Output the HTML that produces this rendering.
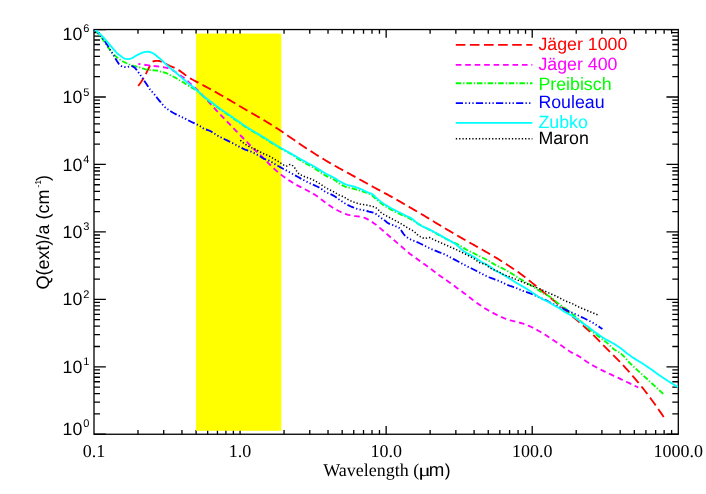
<!DOCTYPE html>
<html><head><meta charset="utf-8"><title>Q(ext)/a vs Wavelength</title>
<style>html,body{margin:0;padding:0;background:#fff;}svg{display:block;transform:translateZ(0);will-change:transform;}text{font-family:"Liberation Sans",sans-serif;text-rendering:geometricPrecision;}.se{font-family:"Liberation Serif",serif;}</style></head><body>
<svg width="706" height="494" viewBox="0 0 706 494">
<rect x="0" y="0" width="706" height="494" fill="#ffffff"/>
<g stroke="#000" stroke-width="1.3" fill="none" stroke-linecap="butt">
<rect x="94" y="29.55" width="584.3" height="404.7"/>
</g>
<path d="M137.97 434.25 v-4.2 M137.97 29.55 v4.2 M163.7 434.25 v-4.2 M163.7 29.55 v4.2 M181.95 434.25 v-4.2 M181.95 29.55 v4.2 M196.1 434.25 v-4.2 M196.1 29.55 v4.2 M207.67 434.25 v-4.2 M207.67 29.55 v4.2 M217.45 434.25 v-4.2 M217.45 29.55 v4.2 M225.92 434.25 v-4.2 M225.92 29.55 v4.2 M233.39 434.25 v-4.2 M233.39 29.55 v4.2 M240.07 434.25 v-8.3 M240.07 29.55 v8.3 M284.05 434.25 v-4.2 M284.05 29.55 v4.2 M309.77 434.25 v-4.2 M309.77 29.55 v4.2 M328.02 434.25 v-4.2 M328.02 29.55 v4.2 M342.18 434.25 v-4.2 M342.18 29.55 v4.2 M353.74 434.25 v-4.2 M353.74 29.55 v4.2 M363.52 434.25 v-4.2 M363.52 29.55 v4.2 M371.99 434.25 v-4.2 M371.99 29.55 v4.2 M379.47 434.25 v-4.2 M379.47 29.55 v4.2 M386.15 434.25 v-8.3 M386.15 29.55 v8.3 M430.12 434.25 v-4.2 M430.12 29.55 v4.2 M455.85 434.25 v-4.2 M455.85 29.55 v4.2 M474.1 434.25 v-4.2 M474.1 29.55 v4.2 M488.25 434.25 v-4.2 M488.25 29.55 v4.2 M499.82 434.25 v-4.2 M499.82 29.55 v4.2 M509.6 434.25 v-4.2 M509.6 29.55 v4.2 M518.07 434.25 v-4.2 M518.07 29.55 v4.2 M525.54 434.25 v-4.2 M525.54 29.55 v4.2 M532.22 434.25 v-8.3 M532.22 29.55 v8.3 M576.2 434.25 v-4.2 M576.2 29.55 v4.2 M601.92 434.25 v-4.2 M601.92 29.55 v4.2 M620.17 434.25 v-4.2 M620.17 29.55 v4.2 M634.33 434.25 v-4.2 M634.33 29.55 v4.2 M645.89 434.25 v-4.2 M645.89 29.55 v4.2 M655.67 434.25 v-4.2 M655.67 29.55 v4.2 M664.14 434.25 v-4.2 M664.14 29.55 v4.2 M671.62 434.25 v-4.2 M671.62 29.55 v4.2 M94 434.25 h11.85 M678.3 434.25 h-11.85 M94 413.95 h6 M678.3 413.95 h-6 M94 402.07 h6 M678.3 402.07 h-6 M94 393.64 h6 M678.3 393.64 h-6 M94 387.1 h6 M678.3 387.1 h-6 M94 381.76 h6 M678.3 381.76 h-6 M94 377.25 h6 M678.3 377.25 h-6 M94 373.34 h6 M678.3 373.34 h-6 M94 369.89 h6 M678.3 369.89 h-6 M94 366.8 h11.85 M678.3 366.8 h-11.85 M94 346.5 h6 M678.3 346.5 h-6 M94 334.62 h6 M678.3 334.62 h-6 M94 326.19 h6 M678.3 326.19 h-6 M94 319.65 h6 M678.3 319.65 h-6 M94 314.31 h6 M678.3 314.31 h-6 M94 309.8 h6 M678.3 309.8 h-6 M94 305.89 h6 M678.3 305.89 h-6 M94 302.44 h6 M678.3 302.44 h-6 M94 299.35 h11.85 M678.3 299.35 h-11.85 M94 279.05 h6 M678.3 279.05 h-6 M94 267.17 h6 M678.3 267.17 h-6 M94 258.74 h6 M678.3 258.74 h-6 M94 252.2 h6 M678.3 252.2 h-6 M94 246.86 h6 M678.3 246.86 h-6 M94 242.35 h6 M678.3 242.35 h-6 M94 238.44 h6 M678.3 238.44 h-6 M94 234.99 h6 M678.3 234.99 h-6 M94 231.9 h11.85 M678.3 231.9 h-11.85 M94 211.6 h6 M678.3 211.6 h-6 M94 199.72 h6 M678.3 199.72 h-6 M94 191.29 h6 M678.3 191.29 h-6 M94 184.75 h6 M678.3 184.75 h-6 M94 179.41 h6 M678.3 179.41 h-6 M94 174.9 h6 M678.3 174.9 h-6 M94 170.99 h6 M678.3 170.99 h-6 M94 167.54 h6 M678.3 167.54 h-6 M94 164.45 h11.85 M678.3 164.45 h-11.85 M94 144.15 h6 M678.3 144.15 h-6 M94 132.27 h6 M678.3 132.27 h-6 M94 123.84 h6 M678.3 123.84 h-6 M94 117.3 h6 M678.3 117.3 h-6 M94 111.96 h6 M678.3 111.96 h-6 M94 107.45 h6 M678.3 107.45 h-6 M94 103.54 h6 M678.3 103.54 h-6 M94 100.09 h6 M678.3 100.09 h-6 M94 97 h11.85 M678.3 97 h-11.85 M94 76.7 h6 M678.3 76.7 h-6 M94 64.82 h6 M678.3 64.82 h-6 M94 56.39 h6 M678.3 56.39 h-6 M94 49.85 h6 M678.3 49.85 h-6 M94 44.51 h6 M678.3 44.51 h-6 M94 40 h6 M678.3 40 h-6 M94 36.09 h6 M678.3 36.09 h-6 M94 32.64 h6 M678.3 32.64 h-6 M94 29.55 h11.85 M678.3 29.55 h-11.85" stroke="#000" stroke-width="1.3" fill="none"/>
<rect x="196.1" y="33.6" width="85.2" height="397.2" fill="#ffff00"/>
<defs><clipPath id="pc"><rect x="94.55" y="30.1" width="583.75" height="404.15"/></clipPath></defs>
<g clip-path="url(#pc)">
<path d="M138.2 85.9 L139.7 83.96 L141.2 81.83 L142.7 79.58 L144.2 77.19 L145.7 74.39 L147.2 71.12 L148.7 68.25 L150.2 65.1 L151.7 62.55 L153.2 61.4 L154.7 61.02 L156.2 60.9 L157.7 60.9 L159.2 60.96 L160.7 61.31 L162.2 61.9 L163.7 62.73 L165.2 63.54 L166.7 64.36 L168.2 65.17 L169.7 65.89 L171.2 66.49 L172.7 67.05 L174.2 67.64 L175.7 68.35 L177.2 69.21 L178.7 70.15 L180.2 71.13 L181.7 72.18 L183.2 73.31 L184.7 74.47 L186.2 75.62 L187.7 76.71 L189.2 77.69 L190.7 78.6 L192.2 79.47 L193.7 80.29 L195.2 81.08 L196.7 81.87 L198.2 82.65 L199.7 83.44 L201.2 84.25 L202.7 85.05 L204.2 85.84 L205.7 86.64 L207.2 87.45 L208.7 88.26 L210.2 89.07 L211.7 89.89 L213.2 90.72 L214.7 91.55 L216.2 92.39 L217.7 93.24 L219.2 94.09 L220.7 94.95 L222.2 95.81 L223.7 96.67 L225.2 97.54 L226.7 98.4 L228.2 99.28 L229.7 100.16 L231.2 101.04 L232.7 101.93 L234.2 102.82 L235.7 103.72 L237.2 104.62 L238.7 105.52 L240.2 106.42 L241.7 107.31 L243.2 108.19 L244.7 109.06 L246.2 109.93 L247.7 110.79 L249.2 111.64 L250.7 112.5 L252.2 113.35 L253.7 114.21 L255.2 115.08 L256.7 115.95 L258.2 116.83 L259.7 117.71 L261.2 118.59 L262.7 119.48 L264.2 120.38 L265.7 121.28 L267.2 122.19 L268.7 123.11 L270.2 124.03 L271.7 124.97 L273.2 125.92 L274.7 126.88 L276.2 127.85 L277.7 128.84 L279.2 129.83 L280.7 130.84 L282.2 131.85 L283.7 132.87 L285.2 133.89 L286.7 134.92 L288.2 135.94 L289.7 136.98 L291.2 138.01 L292.7 139.05 L294.2 140.09 L295.7 141.13 L297.2 142.17 L298.7 143.21 L300.2 144.24 L301.7 145.25 L303.2 146.26 L304.7 147.25 L306.2 148.23 L307.7 149.2 L309.2 150.16 L310.7 151.11 L312.2 152.07 L313.7 153.02 L315.2 153.97 L316.7 154.91 L318.2 155.86 L319.7 156.79 L321.2 157.72 L322.7 158.64 L324.2 159.56 L325.7 160.46 L327.2 161.35 L328.7 162.24 L330.2 163.12 L331.7 164 L333.2 164.86 L334.7 165.72 L336.2 166.56 L337.7 167.4 L339.2 168.22 L340.7 169.04 L342.2 169.85 L343.7 170.66 L345.2 171.47 L346.7 172.28 L348.2 173.1 L349.7 173.92 L351.2 174.74 L352.7 175.57 L354.2 176.4 L355.7 177.23 L357.2 178.06 L358.7 178.89 L360.2 179.72 L361.7 180.55 L363.2 181.39 L364.7 182.22 L366.2 183.06 L367.7 183.89 L369.2 184.72 L370.7 185.55 L372.2 186.38 L373.7 187.2 L375.2 188.01 L376.7 188.82 L378.2 189.62 L379.7 190.42 L381.2 191.21 L382.7 192.01 L384.2 192.81 L385.7 193.62 L387.2 194.43 L388.7 195.26 L390.2 196.09 L391.7 196.92 L393.2 197.77 L394.7 198.61 L396.2 199.46 L397.7 200.31 L399.2 201.17 L400.7 202.03 L402.2 202.88 L403.7 203.75 L405.2 204.61 L406.7 205.48 L408.2 206.35 L409.7 207.22 L411.2 208.08 L412.7 208.95 L414.2 209.83 L415.7 210.7 L417.2 211.57 L418.7 212.45 L420.2 213.34 L421.7 214.23 L423.2 215.12 L424.7 216.02 L426.2 216.93 L427.7 217.85 L429.2 218.76 L430.7 219.68 L432.2 220.6 L433.7 221.52 L435.2 222.44 L436.7 223.35 L438.2 224.25 L439.7 225.15 L441.2 226.05 L442.7 226.94 L444.2 227.83 L445.7 228.72 L447.2 229.61 L448.7 230.49 L450.2 231.38 L451.7 232.26 L453.2 233.15 L454.7 234.03 L456.2 234.9 L457.7 235.77 L459.2 236.64 L460.7 237.5 L462.2 238.36 L463.7 239.21 L465.2 240.06 L466.7 240.92 L468.2 241.76 L469.7 242.61 L471.2 243.45 L472.7 244.3 L474.2 245.14 L475.7 245.98 L477.2 246.82 L478.7 247.66 L480.2 248.51 L481.7 249.36 L483.2 250.22 L484.7 251.08 L486.2 251.95 L487.7 252.82 L489.2 253.7 L490.7 254.58 L492.2 255.46 L493.7 256.36 L495.2 257.26 L496.7 258.16 L498.2 259.08 L499.7 260 L501.2 260.93 L502.7 261.86 L504.2 262.81 L505.7 263.76 L507.2 264.72 L508.7 265.69 L510.2 266.68 L511.7 267.67 L513.2 268.68 L514.7 269.71 L516.2 270.75 L517.7 271.8 L519.2 272.87 L520.7 273.96 L522.2 275.07 L523.7 276.2 L525.2 277.35 L526.7 278.52 L528.2 279.71 L529.7 280.91 L531.2 282.13 L532.7 283.35 L534.2 284.58 L535.7 285.81 L537.2 287.04 L538.7 288.27 L540.2 289.49 L541.7 290.71 L543.2 291.93 L544.7 293.15 L546.2 294.37 L547.7 295.6 L549.2 296.83 L550.7 298.06 L552.2 299.29 L553.7 300.53 L555.2 301.77 L556.7 303.01 L558.2 304.26 L559.7 305.51 L561.2 306.77 L562.7 308.03 L564.2 309.3 L565.7 310.57 L567.2 311.85 L568.7 313.13 L570.2 314.42 L571.7 315.7 L573.2 316.99 L574.7 318.28 L576.2 319.57 L577.7 320.87 L579.2 322.16 L580.7 323.47 L582.2 324.79 L583.7 326.11 L585.2 327.45 L586.7 328.81 L588.2 330.19 L589.7 331.59 L591.2 333.01 L592.7 334.45 L594.2 335.91 L595.7 337.4 L597.2 338.9 L598.7 340.42 L600.2 341.95 L601.7 343.47 L603.2 345 L604.7 346.53 L606.2 348.05 L607.7 349.56 L609.2 351.07 L610.7 352.56 L612.2 354.06 L613.7 355.56 L615.2 357.06 L616.7 358.58 L618.2 360.11 L619.7 361.66 L621.2 363.22 L622.7 364.81 L624.2 366.42 L625.7 368.06 L627.2 369.71 L628.7 371.39 L630.2 373.08 L631.7 374.8 L633.2 376.54 L634.7 378.29 L636.2 380.07 L637.7 381.86 L639.2 383.68 L640.7 385.53 L642.2 387.4 L643.7 389.3 L645.2 391.23 L646.7 393.18 L648.2 395.17 L649.7 397.18 L651.2 399.19 L652.7 401.23 L654.2 403.31 L655.7 405.42 L657.2 407.56 L658.7 409.71 L660.2 411.87 L661.7 414.04 L663.2 416.22 L664.2 417.69" stroke="#ff0000" stroke-width="1.85" fill="none" stroke-linejoin="round" stroke-dasharray="9.6 4.5"/>
<path d="M138.3 63.8 L139.8 64.05 L141.3 64.29 L142.8 64.53 L144.3 64.75 L145.8 64.97 L147.3 65.18 L148.8 65.39 L150.3 65.58 L151.8 65.77 L153.3 65.95 L154.8 66.12 L156.3 66.28 L157.8 66.44 L159.3 66.61 L160.8 66.8 L162.3 67.02 L163.8 67.27 L165.3 67.56 L166.8 67.9 L168.3 68.35 L169.8 68.92 L171.3 69.59 L172.8 70.38 L174.3 71.25 L175.8 72.19 L177.3 73.25 L178.8 74.41 L180.3 75.54 L181.8 76.57 L183.3 77.4 L184.8 78.43 L186.3 79.74 L187.8 81.19 L189.3 82.65 L190.8 84.02 L192.3 85.34 L193.8 86.66 L195.3 87.99 L196.8 89.36 L198.3 90.79 L199.8 92.28 L201.3 93.83 L202.8 95.42 L204.3 97.03 L205.8 98.65 L207.3 100.29 L208.8 101.93 L210.3 103.59 L211.8 105.26 L213.3 106.94 L214.8 108.61 L216.3 110.26 L217.8 111.9 L219.3 113.5 L220.8 115.08 L222.3 116.64 L223.8 118.18 L225.3 119.71 L226.8 121.25 L228.3 122.79 L229.8 124.34 L231.3 125.9 L232.8 127.47 L234.3 129.05 L235.8 130.62 L237.3 132.18 L238.8 133.73 L240.3 135.26 L241.8 136.77 L243.3 138.27 L244.8 139.77 L246.3 141.29 L247.8 142.84 L249.3 144.41 L250.8 146 L252.3 147.55 L253.8 149.04 L255.3 150.44 L256.8 151.79 L258.3 153.15 L259.8 154.55 L261.3 156.01 L262.8 157.51 L264.3 159.03 L265.8 160.55 L267.3 162.05 L268.8 163.55 L270.3 165.02 L271.8 166.48 L273.3 167.91 L274.8 169.31 L276.3 170.66 L277.8 171.97 L279.3 173.23 L280.8 174.44 L282.3 175.61 L283.8 176.74 L285.3 177.83 L286.8 178.89 L288.3 179.91 L289.8 180.89 L291.3 181.84 L292.8 182.75 L294.3 183.63 L295.8 184.49 L297.3 185.32 L298.8 186.13 L300.3 186.92 L301.8 187.69 L303.3 188.45 L304.8 189.21 L306.3 189.97 L307.8 190.76 L309.3 191.57 L310.8 192.41 L312.3 193.26 L313.8 194.15 L315.3 195.08 L316.8 196.07 L318.3 197.14 L319.8 198.26 L321.3 199.41 L322.8 200.57 L324.3 201.7 L325.8 202.82 L327.3 203.91 L328.8 204.98 L330.3 206.02 L331.8 207.03 L333.3 207.99 L334.8 208.9 L336.3 209.75 L337.8 210.54 L339.3 211.28 L340.8 211.97 L342.3 212.63 L343.8 213.24 L345.3 213.81 L346.8 214.34 L348.3 214.8 L349.8 215.21 L351.3 215.54 L352.8 215.81 L354.3 216.02 L355.8 216.19 L357.3 216.35 L358.8 216.51 L360.3 216.72 L361.8 217.01 L363.3 217.42 L364.8 217.96 L366.3 218.63 L367.8 219.4 L369.3 220.25 L370.8 221.15 L372.3 222.12 L373.8 223.15 L375.3 224.23 L376.8 225.38 L378.3 226.58 L379.8 227.84 L381.3 229.13 L382.8 230.44 L384.3 231.76 L385.8 233.08 L387.3 234.4 L388.8 235.7 L390.3 236.99 L391.8 238.27 L393.3 239.54 L394.8 240.82 L396.3 242.09 L397.8 243.37 L399.3 244.66 L400.8 245.96 L402.3 247.27 L403.8 248.58 L405.3 249.9 L406.8 251.2 L408.3 252.47 L409.8 253.69 L411.3 254.85 L412.8 255.96 L414.3 257.03 L415.8 258.09 L417.3 259.13 L418.8 260.18 L420.3 261.24 L421.8 262.3 L423.3 263.38 L424.8 264.47 L426.3 265.58 L427.8 266.7 L429.3 267.83 L430.8 268.96 L432.3 270.1 L433.8 271.23 L435.3 272.35 L436.8 273.46 L438.3 274.56 L439.8 275.63 L441.3 276.69 L442.8 277.74 L444.3 278.77 L445.8 279.81 L447.3 280.84 L448.8 281.89 L450.3 282.96 L451.8 284.05 L453.3 285.17 L454.8 286.3 L456.3 287.45 L457.8 288.58 L459.3 289.69 L460.8 290.77 L462.3 291.84 L463.8 292.91 L465.3 294.01 L466.8 295.15 L468.3 296.32 L469.8 297.51 L471.3 298.69 L472.8 299.86 L474.3 301 L475.8 302.11 L477.3 303.2 L478.8 304.25 L480.3 305.29 L481.8 306.29 L483.3 307.27 L484.8 308.23 L486.3 309.15 L487.8 310.04 L489.3 310.9 L490.8 311.73 L492.3 312.54 L493.8 313.33 L495.3 314.1 L496.8 314.85 L498.3 315.59 L499.8 316.3 L501.3 316.98 L502.8 317.64 L504.3 318.25 L505.8 318.83 L507.3 319.36 L508.8 319.84 L510.3 320.28 L511.8 320.68 L513.3 321.05 L514.8 321.41 L516.3 321.78 L517.8 322.15 L519.3 322.56 L520.8 322.99 L522.3 323.45 L523.8 323.94 L525.3 324.47 L526.8 325.03 L528.3 325.63 L529.8 326.28 L531.3 326.97 L532.8 327.7 L534.3 328.46 L535.8 329.26 L537.3 330.08 L538.8 330.94 L540.3 331.81 L541.8 332.72 L543.3 333.64 L544.8 334.59 L546.3 335.55 L547.8 336.53 L549.3 337.52 L550.8 338.5 L552.3 339.48 L553.8 340.46 L555.3 341.44 L556.8 342.42 L558.3 343.41 L559.8 344.42 L561.3 345.46 L562.8 346.53 L564.3 347.63 L565.8 348.73 L567.3 349.81 L568.8 350.82 L570.3 351.74 L571.8 352.57 L573.3 353.34 L574.8 354.07 L576.3 354.82 L577.8 355.64 L579.3 356.53 L580.8 357.52 L582.3 358.56 L583.8 359.64 L585.3 360.7 L586.8 361.73 L588.3 362.7 L589.8 363.63 L591.3 364.51 L592.8 365.36 L594.3 366.19 L595.8 366.99 L597.3 367.78 L598.8 368.56 L600.3 369.32 L601.8 370.08 L603.3 370.84 L604.8 371.58 L606.3 372.31 L607.8 373.04 L609.3 373.75 L610.8 374.46 L612.3 375.16 L613.8 375.86 L615.3 376.55 L616.8 377.25 L618.3 377.94 L619.8 378.64 L621.3 379.35 L622.8 380.06 L624.3 380.77 L625.8 381.49 L627.3 382.21 L628.8 382.92 L630.3 383.64 L631.8 384.36 L633.3 385.09 L634.8 385.81 L636.3 386.53 L637.8 387.26 L638.3 387.5" stroke="#ff00ff" stroke-width="1.85" fill="none" stroke-linejoin="round" stroke-dasharray="5.62 3.83" stroke-dashoffset="3.4"/>
<path d="M94.6 29.4 L96.1 31.03 L97.6 32.76 L99.1 34.59 L100.6 36.5 L102.1 38.54 L103.6 40.7 L105.1 42.88 L106.6 45.13 L108.1 47.32 L109.6 49.38 L111.1 51.32 L112.6 53.08 L114.1 54.66 L115.6 56.09 L117.1 57.37 L118.6 58.55 L120.1 59.66 L121.6 60.66 L123.1 61.53 L124.6 62.32 L126.1 63.02 L127.6 63.68 L129.1 64.29 L130.6 64.86 L132.1 65.37 L133.6 65.82 L135.1 66.21 L136.6 66.58 L138.1 66.95 L139.6 67.38 L141.1 67.86 L142.6 68.36 L144.1 68.83 L145.6 69.28 L147.1 69.62 L148.6 69.85 L150.1 70.01 L151.6 70.13 L153.1 70.25 L154.6 70.38 L156.1 70.51 L157.6 70.69 L159.1 71.03 L160.6 71.63 L162.1 72.05 L163.6 72.38 L165.1 72.73 L166.6 73.22 L168.1 74.11 L169.6 74.9 L171.1 75.62 L172.6 76.31 L174.1 77.03 L175.6 77.82 L177.1 78.7 L178.6 79.62 L180.1 80.56 L181.6 81.47 L183.1 82.3 L184.6 83.19 L186.1 84.17 L187.6 85.17 L189.1 86.15 L190.6 87.05 L192.1 87.86 L193.6 88.67 L195.1 89.53 L196.6 90.5 L198.1 91.67 L199.6 93.02 L201.1 94.45 L202.6 95.88 L204.1 97.22 L205.6 98.45 L207.1 99.64 L208.6 100.82 L210.1 101.97 L211.6 103.1 L213.1 104.21 L214.6 105.31 L216.1 106.41 L217.6 107.49 L219.1 108.58 L220.6 109.64 L222.1 110.69 L223.6 111.73 L225.1 112.75 L226.6 113.78 L228.1 114.79 L229.6 115.81 L231.1 116.84 L232.6 117.87 L234.1 118.91 L235.6 119.96 L237.1 121.02 L238.6 122.08 L240.1 123.13 L241.6 124.18 L243.1 125.21 L244.6 126.22 L246.1 127.21 L247.6 128.17 L249.1 129.11 L250.6 130.03 L252.1 130.93 L253.6 131.82 L255.1 132.7 L256.6 133.58 L258.1 134.47 L259.6 135.37 L261.1 136.28 L262.6 137.21 L264.1 138.15 L265.6 139.09 L267.1 140.04 L268.6 141 L270.1 141.95 L271.6 142.89 L273.1 143.83 L274.6 144.76 L276.1 145.68 L277.6 146.58 L279.1 147.47 L280.6 148.32 L282.1 149.14 L283.6 149.95 L285.1 150.76 L286.6 151.57 L288.1 152.4 L289.6 153.25 L291.1 154.13 L292.6 155.06 L294.1 156.09 L295.6 157.18 L297.1 158.26 L298.6 159.26 L300.1 160.2 L301.6 161.12 L303.1 162.01 L304.6 162.86 L306.1 163.68 L307.6 164.45 L309.1 165.15 L310.6 165.93 L312.1 166.8 L313.6 167.72 L315.1 168.69 L316.6 169.68 L318.1 170.69 L319.6 171.7 L321.1 172.7 L322.6 173.75 L324.1 174.74 L325.6 175.57 L327.1 176.31 L328.6 176.98 L330.1 177.64 L331.6 178.33 L333.1 179.08 L334.6 179.95 L336.1 181.06 L337.6 182.39 L339.1 183.4 L340.6 184.31 L342.1 185.14 L343.6 185.89 L345.1 186.53 L346.6 187.04 L348.1 187.41 L349.6 187.71 L351.1 188.08 L352.6 188.49 L354.1 188.93 L355.6 189.38 L357.1 189.82 L358.6 190.24 L360.1 190.66 L361.6 191.1 L363.1 191.57 L364.6 192.07 L366.1 192.57 L367.6 193.1 L369.1 193.71 L370.6 194.44 L372.1 195.42 L373.6 196.76 L375.1 198.23 L376.6 199.6 L378.1 200.85 L379.6 202.09 L381.1 203.29 L382.6 204.43 L384.1 205.47 L385.6 206.44 L387.1 207.35 L388.6 208.22 L390.1 209.06 L391.6 209.88 L393.1 210.68 L394.6 211.45 L396.1 212.19 L397.6 212.92 L399.1 213.64 L400.6 214.35 L402.1 215.05 L403.6 215.71 L405.1 216.37 L406.6 217.03 L408.1 217.73 L409.6 218.49 L411.1 219.34 L412.6 220.31 L414.1 221.32 L415.6 222.32 L417.1 223.23 L418.6 224.08 L420.1 224.89 L421.6 225.68 L423.1 226.45 L424.6 227.22 L426.1 227.99 L427.6 228.77 L429.1 229.58 L430.6 230.4 L432.1 231.22 L433.6 232.06 L435.1 232.9 L436.6 233.73 L438.1 234.57 L439.6 235.4 L441.1 236.22 L442.6 237.03 L444.1 237.82 L445.6 238.6 L447.1 239.35 L448.6 240.07 L450.1 240.77 L451.6 241.47 L453.1 242.16 L454.6 242.86 L456.1 243.58 L457.6 244.32 L459.1 245.11 L460.6 245.94 L462.1 246.88 L463.6 247.87 L465.1 248.84 L466.6 249.74 L468.1 250.54 L469.6 251.29 L471.1 252 L472.6 252.72 L474.1 253.45 L475.6 254.21 L477.1 254.99 L478.6 255.77 L480.1 256.54 L481.6 257.3 L483.1 258.02 L484.6 258.73 L486.1 259.46 L487.6 260.22 L489.1 261.05 L490.6 261.98 L492.1 262.94 L493.6 263.88 L495.1 264.75 L496.6 265.54 L498.1 266.27 L499.6 266.98 L501.1 267.7 L502.6 268.45 L504.1 269.23 L505.6 270.03 L507.1 270.84 L508.6 271.68 L510.1 272.56 L511.6 273.5 L513.1 274.5 L514.6 275.52 L516.1 276.52 L517.6 277.46 L519.1 278.38 L520.6 279.28 L522.1 280.17 L523.6 281.04 L525.1 281.92 L526.6 282.79 L528.1 283.67 L529.6 284.55 L531.1 285.45 L532.6 286.37 L534.1 287.32 L535.6 288.29 L537.1 289.27 L538.6 290.25 L540.1 291.22 L541.6 292.17 L543.1 293.09 L544.6 293.97 L546.1 294.78 L547.6 295.51 L549.1 296.28 L550.6 297.19 L552.1 298.31 L553.6 299.56 L555.1 300.87 L556.6 302.16 L558.1 303.35 L559.6 304.44 L561.1 305.49 L562.6 306.54 L564.1 307.63 L565.6 308.77 L567.1 309.94 L568.6 311.14 L570.1 312.34 L571.6 313.54 L573.1 314.76 L574.6 316 L576.1 317.24 L577.6 318.5 L579.1 319.79 L580.6 321.11 L582.1 322.47 L583.6 323.84 L585.1 325.23 L586.6 326.61 L588.1 327.98 L589.6 329.32 L591.1 330.63 L592.6 331.88 L594.1 333.08 L595.6 334.24 L597.1 335.36 L598.6 336.46 L600.1 337.56 L601.6 338.65 L603.1 339.77 L604.6 340.92 L606.1 342.11 L607.6 343.37 L609.1 344.75 L610.6 346.18 L612.1 347.59 L613.6 348.91 L615.1 350.07 L616.6 351.01 L618.1 351.83 L619.6 352.68 L621.1 353.73 L622.6 355.08 L624.1 356.65 L625.6 358.36 L627.1 360.1 L628.6 361.77 L630.1 363.29 L631.6 364.75 L633.1 366.17 L634.6 367.57 L636.1 368.95 L637.6 370.33 L639.1 371.69 L640.6 373.06 L642.1 374.44 L643.6 375.82 L645.1 377.18 L646.6 378.54 L648.1 379.9 L649.6 381.27 L651.1 382.64 L652.6 384.02 L654.1 385.41 L655.6 386.8 L657.1 388.2 L658.6 389.6 L660.1 391 L661.6 392.41 L663.1 393.82 L663.5 394.2" stroke="#00ff00" stroke-width="1.85" fill="none" stroke-linejoin="round" stroke-dasharray="5.5 1.9 1.3 1.9"/>
<path d="M94.6 29.4 L96.1 31.04 L97.6 32.72 L99.1 34.42 L100.6 36.15 L102.1 37.88 L103.6 39.63 L105.1 41.58 L106.6 43.89 L108.1 46.38 L109.6 48.82 L111.1 51.28 L112.6 53.76 L114.1 56.26 L115.6 58.74 L117.1 61.21 L118.6 63.54 L120.1 65.05 L121.6 66.16 L123.1 66.7 L124.6 67.04 L126.1 67.2 L127.6 67.02 L129.1 66.55 L130.6 66.16 L132.1 66.22 L133.6 66.94 L135.1 68.04 L136.6 69.88 L138.1 71.91 L139.6 73.9 L141.1 76.01 L142.6 78.25 L144.1 80.66 L145.6 82.85 L147.1 84.96 L148.6 87.22 L150.1 89.5 L151.6 91.25 L153.1 92.86 L154.6 94.61 L156.1 96.52 L157.6 98.47 L159.1 100.37 L160.6 102.19 L162.1 104 L163.6 105.73 L165.1 107.23 L166.6 108.49 L168.1 109.61 L169.6 110.63 L171.1 111.57 L172.6 112.46 L174.1 113.29 L175.6 114.05 L177.1 114.78 L178.6 115.51 L180.1 116.25 L181.6 116.99 L183.1 117.72 L184.6 118.46 L186.1 119.2 L187.6 119.96 L189.1 120.74 L190.6 121.5 L192.1 122.23 L193.6 122.95 L195.1 123.66 L196.6 124.35 L198.1 125.05 L199.6 125.82 L201.1 126.7 L202.6 127.92 L204.1 128.96 L205.6 129.42 L207.1 129.76 L208.6 130.27 L210.1 130.97 L211.6 131.82 L213.1 132.75 L214.6 133.73 L216.1 134.7 L217.6 135.61 L219.1 136.43 L220.6 137.21 L222.1 137.98 L223.6 138.73 L225.1 139.47 L226.6 140.2 L228.1 140.94 L229.6 141.67 L231.1 142.4 L232.6 143.15 L234.1 143.92 L235.6 144.72 L237.1 145.54 L238.6 146.36 L240.1 147.17 L241.6 147.95 L243.1 148.68 L244.6 149.36 L246.1 149.98 L247.6 150.49 L249.1 150.91 L250.6 151.43 L252.1 152.06 L253.6 152.77 L255.1 153.54 L256.6 154.36 L258.1 155.22 L259.6 156.09 L261.1 156.99 L262.6 158.07 L264.1 158.96 L265.6 159.36 L267.1 159.81 L268.6 160.44 L270.1 161.2 L271.6 162.04 L273.1 162.95 L274.6 163.89 L276.1 164.81 L277.6 165.71 L279.1 166.54 L280.6 167.36 L282.1 168.19 L283.6 169.01 L285.1 169.84 L286.6 170.66 L288.1 171.48 L289.6 172.31 L291.1 173.13 L292.6 173.95 L294.1 174.79 L295.6 175.62 L297.1 176.47 L298.6 177.31 L300.1 178.15 L301.6 178.98 L303.1 179.8 L304.6 180.61 L306.1 181.39 L307.6 182.15 L309.1 182.87 L310.6 183.59 L312.1 184.27 L313.6 184.93 L315.1 185.59 L316.6 186.27 L318.1 187 L319.6 187.8 L321.1 188.7 L322.6 189.88 L324.1 191.04 L325.6 191.92 L327.1 192.68 L328.6 193.36 L330.1 194.02 L331.6 194.69 L333.1 195.42 L334.6 196.26 L336.1 197.29 L337.6 198.48 L339.1 199.55 L340.6 200.57 L342.1 201.57 L343.6 202.53 L345.1 203.46 L346.6 204.33 L348.1 205.13 L349.6 205.85 L351.1 206.53 L352.6 207.17 L354.1 207.79 L355.6 208.35 L357.1 208.85 L358.6 209.27 L360.1 209.59 L361.6 209.84 L363.1 210.15 L364.6 210.5 L366.1 210.87 L367.6 211.25 L369.1 211.65 L370.6 212.01 L372.1 212.34 L373.6 212.72 L375.1 213.26 L376.6 214.45 L378.1 215.64 L379.6 216.75 L381.1 217.88 L382.6 218.93 L384.1 219.88 L385.6 221.16 L387.1 222.47 L388.6 223.46 L390.1 224.14 L391.6 224.7 L393.1 225.22 L394.6 225.77 L396.1 226.39 L397.6 226.99 L399.1 227.78 L400.6 229.3 L402.1 231.89 L403.6 234.02 L405.1 235.81 L406.6 237.08 L408.1 238.12 L409.6 238.99 L411.1 239.72 L412.6 240.33 L414.1 240.89 L415.6 241.45 L417.1 242.08 L418.6 242.76 L420.1 243.48 L421.6 244.22 L423.1 244.96 L424.6 245.7 L426.1 246.46 L427.6 247.23 L429.1 247.99 L430.6 248.71 L432.1 249.37 L433.6 250 L435.1 250.61 L436.6 251.21 L438.1 251.82 L439.6 252.42 L441.1 253 L442.6 253.59 L444.1 254.2 L445.6 254.88 L447.1 255.62 L448.6 256.4 L450.1 257.21 L451.6 258.02 L453.1 258.82 L454.6 259.61 L456.1 260.41 L457.6 261.21 L459.1 262.02 L460.6 262.82 L462.1 263.64 L463.6 264.45 L465.1 265.26 L466.6 266.05 L468.1 266.81 L469.6 267.55 L471.1 268.28 L472.6 269.01 L474.1 269.75 L475.6 270.51 L477.1 271.29 L478.6 272.07 L480.1 272.84 L481.6 273.61 L483.1 274.38 L484.6 275.14 L486.1 275.89 L487.6 276.59 L489.1 277.24 L490.6 277.83 L492.1 278.4 L493.6 278.96 L495.1 279.54 L496.6 280.12 L498.1 280.69 L499.6 281.28 L501.1 281.89 L502.6 282.55 L504.1 283.3 L505.6 284.05 L507.1 284.72 L508.6 285.35 L510.1 285.94 L511.6 286.47 L513.1 286.97 L514.6 287.46 L516.1 287.98 L517.6 288.56 L519.1 289.22 L520.6 289.9 L522.1 290.54 L523.6 291.1 L525.1 291.6 L526.6 292.07 L528.1 292.54 L529.6 293.05 L531.1 293.62 L532.6 294.3 L534.1 295.04 L535.6 295.78 L537.1 296.48 L538.6 297.11 L540.1 297.72 L541.6 298.33 L543.1 298.95 L544.6 299.61 L546.1 300.35 L547.6 301.16 L549.1 302 L550.6 302.8 L552.1 303.54 L553.6 304.27 L555.1 304.98 L556.6 305.67 L558.1 306.35 L559.6 307.03 L561.1 307.71 L562.6 308.38 L564.1 309.05 L565.6 309.73 L567.1 310.39 L568.6 311.04 L570.1 311.7 L571.6 312.37 L573.1 313.06 L574.6 313.75 L576.1 314.45 L577.6 315.16 L579.1 315.88 L580.6 316.6 L582.1 317.31 L583.6 318.03 L585.1 318.75 L586.6 319.49 L588.1 320.24 L589.6 321.02 L591.1 321.82 L592.6 322.66 L594.1 323.53 L595.6 324.45 L597.1 325.4 L598.6 326.39 L600.1 327.4 L601.6 328.44 L602.4 329" stroke="#0000ff" stroke-width="1.85" fill="none" stroke-linejoin="round" stroke-dasharray="7.2 2.25 1.3 2.25 1.3 2.25 1.3 2.25" stroke-dashoffset="4.5"/>
<path d="M94.6 29.4 L96.1 30.58 L97.6 31.84 L99.1 33.17 L100.6 34.59 L102.1 36.09 L103.6 37.68 L105.1 39.36 L106.6 41.09 L108.1 42.85 L109.6 44.63 L111.1 46.44 L112.6 48.22 L114.1 49.96 L115.6 51.66 L117.1 53.21 L118.6 54.42 L120.1 55.53 L121.6 56.68 L123.1 57.7 L124.6 58.58 L126.1 58.92 L127.6 59.09 L129.1 58.99 L130.6 58.59 L132.1 58.06 L133.6 57.26 L135.1 56.24 L136.6 55.38 L138.1 54.6 L139.6 53.89 L141.1 53.26 L142.6 52.68 L144.1 52.19 L145.6 51.91 L147.1 51.73 L148.6 51.75 L150.1 52.09 L151.6 52.63 L153.1 53.27 L154.6 54.24 L156.1 55.43 L157.6 56.68 L159.1 57.91 L160.6 59.24 L162.1 60.62 L163.6 62.01 L165.1 63.41 L166.6 64.85 L168.1 66.26 L169.6 67.58 L171.1 68.79 L172.6 69.92 L174.1 71.07 L175.6 72.31 L177.1 73.66 L178.6 75.05 L180.1 76.39 L181.6 77.67 L183.1 78.93 L184.6 80.16 L186.1 81.39 L187.6 82.62 L189.1 83.85 L190.6 85.09 L192.1 86.31 L193.6 87.53 L195.1 88.76 L196.6 90.01 L198.1 91.29 L199.6 92.64 L201.1 94.05 L202.6 95.43 L204.1 96.72 L205.6 97.85 L207.1 98.92 L208.6 100.03 L210.1 101.17 L211.6 102.34 L213.1 103.52 L214.6 104.69 L216.1 105.85 L217.6 106.98 L219.1 108.08 L220.6 109.15 L222.1 110.2 L223.6 111.24 L225.1 112.27 L226.6 113.28 L228.1 114.3 L229.6 115.32 L231.1 116.34 L232.6 117.37 L234.1 118.41 L235.6 119.46 L237.1 120.52 L238.6 121.58 L240.1 122.63 L241.6 123.68 L243.1 124.71 L244.6 125.72 L246.1 126.71 L247.6 127.67 L249.1 128.61 L250.6 129.53 L252.1 130.43 L253.6 131.32 L255.1 132.2 L256.6 133.09 L258.1 133.97 L259.6 134.87 L261.1 135.78 L262.6 136.71 L264.1 137.64 L265.6 138.57 L267.1 139.52 L268.6 140.47 L270.1 141.42 L271.6 142.37 L273.1 143.32 L274.6 144.25 L276.1 145.18 L277.6 146.08 L279.1 146.97 L280.6 147.84 L282.1 148.7 L283.6 149.55 L285.1 150.38 L286.6 151.22 L288.1 152.05 L289.6 152.88 L291.1 153.71 L292.6 154.56 L294.1 155.41 L295.6 156.26 L297.1 157.12 L298.6 157.98 L300.1 158.84 L301.6 159.69 L303.1 160.53 L304.6 161.36 L306.1 162.18 L307.6 162.97 L309.1 163.73 L310.6 164.53 L312.1 165.36 L313.6 166.2 L315.1 167.07 L316.6 167.95 L318.1 168.85 L319.6 169.76 L321.1 170.69 L322.6 171.68 L324.1 172.64 L325.6 173.49 L327.1 174.27 L328.6 175 L330.1 175.73 L331.6 176.46 L333.1 177.23 L334.6 178.06 L336.1 179.02 L337.6 180.06 L339.1 180.96 L340.6 181.82 L342.1 182.64 L343.6 183.4 L345.1 184.08 L346.6 184.64 L348.1 185.05 L349.6 185.4 L351.1 185.8 L352.6 186.22 L354.1 186.66 L355.6 187.13 L357.1 187.64 L358.6 188.19 L360.1 188.79 L361.6 189.42 L363.1 190.08 L364.6 190.8 L366.1 191.65 L367.6 192.44 L369.1 192.96 L370.6 193.3 L372.1 194.04 L373.6 195.28 L375.1 196.74 L376.6 198.13 L378.1 199.38 L379.6 200.63 L381.1 201.86 L382.6 203.02 L384.1 204.06 L385.6 204.96 L387.1 205.86 L388.6 206.74 L390.1 207.61 L391.6 208.47 L393.1 209.29 L394.6 210.09 L396.1 210.84 L397.6 211.54 L399.1 212.23 L400.6 212.95 L402.1 213.75 L403.6 214.61 L405.1 215.4 L406.6 216.06 L408.1 216.64 L409.6 217.29 L411.1 218.17 L412.6 219.26 L414.1 220.49 L415.6 221.73 L417.1 222.91 L418.6 224.09 L420.1 225.12 L421.6 225.96 L423.1 226.71 L424.6 227.4 L426.1 228.06 L427.6 228.71 L429.1 229.38 L430.6 230.1 L432.1 230.87 L433.6 231.65 L435.1 232.45 L436.6 233.26 L438.1 234.08 L439.6 234.91 L441.1 235.76 L442.6 236.61 L444.1 237.48 L445.6 238.35 L447.1 239.19 L448.6 240.03 L450.1 240.86 L451.6 241.72 L453.1 242.61 L454.6 243.57 L456.1 244.6 L457.6 245.72 L459.1 247.08 L460.6 248.55 L462.1 249.87 L463.6 251.06 L465.1 252.07 L466.6 252.98 L468.1 253.82 L469.6 254.63 L471.1 255.43 L472.6 256.26 L474.1 257.14 L475.6 258.09 L477.1 259.06 L478.6 260.05 L480.1 261.03 L481.6 261.97 L483.1 262.86 L484.6 263.67 L486.1 264.38 L487.6 265.11 L489.1 266 L490.6 267.07 L492.1 268.22 L493.6 269.36 L495.1 270.36 L496.6 271.22 L498.1 272.01 L499.6 272.77 L501.1 273.54 L502.6 274.36 L504.1 275.22 L505.6 276.11 L507.1 277.01 L508.6 277.93 L510.1 278.86 L511.6 279.82 L513.1 280.79 L514.6 281.75 L516.1 282.67 L517.6 283.58 L519.1 284.46 L520.6 285.31 L522.1 286.16 L523.6 287 L525.1 287.86 L526.6 288.78 L528.1 289.8 L529.6 290.78 L531.1 291.73 L532.6 292.69 L534.1 293.7 L535.6 294.7 L537.1 295.7 L538.6 296.7 L540.1 297.66 L541.6 298.6 L543.1 299.45 L544.6 300.14 L546.1 300.78 L547.6 301.51 L549.1 302.37 L550.6 303.25 L552.1 304.17 L553.6 305.07 L555.1 305.91 L556.6 306.72 L558.1 307.56 L559.6 308.44 L561.1 309.36 L562.6 310.38 L564.1 311.43 L565.6 312.35 L567.1 313.16 L568.6 313.93 L570.1 314.7 L571.6 315.54 L573.1 316.44 L574.6 317.38 L576.1 318.37 L577.6 319.41 L579.1 320.53 L580.6 321.71 L582.1 322.77 L583.6 323.77 L585.1 324.77 L586.6 325.75 L588.1 326.77 L589.6 327.94 L591.1 329.18 L592.6 330.37 L594.1 331.53 L595.6 332.62 L597.1 333.63 L598.6 334.63 L600.1 335.67 L601.6 336.73 L603.1 337.75 L604.6 338.75 L606.1 339.66 L607.6 340.41 L609.1 341.15 L610.6 341.94 L612.1 342.74 L613.6 343.57 L615.1 344.46 L616.6 345.41 L618.1 346.42 L619.6 347.48 L621.1 348.57 L622.6 349.74 L624.1 350.97 L625.6 352.21 L627.1 353.42 L628.6 354.54 L630.1 355.61 L631.6 356.65 L633.1 357.65 L634.6 358.64 L636.1 359.6 L637.6 360.52 L639.1 361.42 L640.6 362.33 L642.1 363.26 L643.6 364.23 L645.1 365.2 L646.6 366.19 L648.1 367.2 L649.6 368.22 L651.1 369.27 L652.6 370.36 L654.1 371.47 L655.6 372.58 L657.1 373.68 L658.6 374.74 L660.1 375.78 L661.6 376.8 L663.1 377.82 L664.6 378.81 L666.1 379.8 L667.6 380.76 L669.1 381.71 L670.6 382.65 L672.1 383.57 L673.6 384.48 L675.1 385.37 L676.6 386.24 L678.1 387.1" stroke="#00ffff" stroke-width="1.85" fill="none" stroke-linejoin="round"/>
<path d="M240.3 140.3 L241.8 141.64 L243.3 142.86 L244.8 143.98 L246.3 144.99 L247.8 145.9 L249.3 146.71 L250.8 147.44 L252.3 148.03 L253.8 148.54 L255.3 149.22 L256.8 150 L258.3 150.84 L259.8 151.71 L261.3 152.55 L262.8 153.35 L264.3 154.04 L265.8 154.61 L267.3 155.15 L268.8 155.82 L270.3 156.62 L271.8 157.49 L273.3 158.42 L274.8 159.37 L276.3 160.31 L277.8 161.21 L279.3 162.11 L280.8 163.16 L282.3 164.23 L283.8 165.17 L285.3 165.84 L286.8 166.1 L288.3 165.46 L289.8 164.53 L291.3 164.64 L292.8 165.76 L294.3 167.23 L295.8 169.63 L297.3 172.17 L298.8 173.65 L300.3 174.63 L301.8 175.42 L303.3 176.09 L304.8 176.68 L306.3 177.25 L307.8 177.78 L309.3 178.25 L310.8 178.83 L312.3 179.49 L313.8 180.23 L315.3 181.02 L316.8 181.86 L318.3 182.75 L319.8 183.67 L321.3 184.64 L322.8 185.79 L324.3 186.86 L325.8 187.75 L327.3 188.56 L328.8 189.32 L330.3 190.05 L331.8 190.79 L333.3 191.56 L334.8 192.38 L336.3 193.34 L337.8 194.32 L339.3 195.07 L340.8 195.68 L342.3 196.27 L343.8 196.95 L345.3 197.81 L346.8 198.76 L348.3 199.68 L349.8 200.44 L351.3 201.1 L352.8 201.71 L354.3 202.28 L355.8 202.81 L357.3 203.28 L358.8 203.7 L360.3 204.06 L361.8 204.35 L363.3 204.61 L364.8 204.84 L366.3 205.08 L367.8 205.36 L369.3 205.67 L370.8 205.97 L372.3 206.3 L373.8 206.71 L375.3 207.26 L376.8 208.26 L378.3 209.77 L379.8 211.3 L381.3 212.78 L382.8 213.84 L384.3 214.74 L385.8 215.59 L387.3 216.38 L388.8 217.16 L390.3 217.94 L391.8 218.71 L393.3 219.49 L394.8 220.29 L396.3 221.12 L397.8 221.97 L399.3 222.83 L400.8 223.7 L402.3 224.58 L403.8 225.47 L405.3 226.38 L406.8 227.3 L408.3 228.2 L409.8 229.09 L411.3 229.89 L412.8 230.68 L414.3 231.68 L415.8 233.1 L417.3 234.62 L418.8 235.79 L420.3 236.62 L421.8 237.35 L423.3 238.09 L424.8 238.4 L426.3 238.14 L427.8 237.71 L429.3 237.5 L430.8 237.99 L432.3 238.91 L433.8 239.68 L435.3 240.35 L436.8 241.02 L438.3 241.68 L439.8 242.33 L441.3 242.98 L442.8 243.64 L444.3 244.3 L445.8 244.97 L447.3 245.63 L448.8 246.29 L450.3 246.95 L451.8 247.62 L453.3 248.29 L454.8 248.96 L456.3 249.65 L457.8 250.34 L459.3 251.06 L460.8 251.79 L462.3 252.52 L463.8 253.27 L465.3 254.03 L466.8 254.8 L468.3 255.58 L469.8 256.39 L471.3 257.21 L472.8 258.06 L474.3 258.95 L475.8 260.01 L477.3 261.18 L478.8 262.26 L480.3 263.07 L481.8 263.47 L483.3 263.66 L484.8 263.92 L486.3 264.78 L487.8 266.34 L489.3 267.51 L490.8 268.35 L492.3 269.07 L493.8 269.71 L495.3 270.32 L496.8 270.93 L498.3 271.58 L499.8 272.31 L501.3 273.2 L502.8 274.15 L504.3 274.83 L505.8 275.4 L507.3 275.92 L508.8 276.44 L510.3 277.02 L511.8 277.64 L513.3 278.27 L514.8 278.91 L516.3 279.54 L517.8 280.15 L519.3 280.75 L520.8 281.34 L522.3 281.93 L523.8 282.52 L525.3 283.1 L526.8 283.69 L528.3 284.28 L529.8 284.88 L531.3 285.47 L532.8 286.06 L534.3 286.65 L535.8 287.24 L537.3 287.83 L538.8 288.44 L540.3 289.05 L541.8 289.68 L543.3 290.32 L544.8 291 L546.3 291.72 L547.8 292.45 L549.3 293.17 L550.8 293.86 L552.3 294.52 L553.8 295.16 L555.3 295.8 L556.8 296.48 L558.3 297.2 L559.8 298.01 L561.3 298.86 L562.8 299.7 L564.3 300.45 L565.8 301.1 L567.3 301.69 L568.8 302.25 L570.3 302.84 L571.8 303.46 L573.3 304.18 L574.8 304.97 L576.3 305.79 L577.8 306.56 L579.3 307.26 L580.8 307.93 L582.3 308.57 L583.8 309.19 L585.3 309.8 L586.8 310.4 L588.3 310.99 L589.8 311.59 L591.3 312.2 L592.8 312.83 L594.3 313.45 L595.8 314.08 L597.3 314.71 L598.8 315.35 L599.4 315.6" stroke="#000000" stroke-width="1.5" fill="none" stroke-linejoin="round" stroke-dasharray="1.3 2.0"/>
</g>
<path d="M455.8 44.9 H532.4" stroke="#ff0000" stroke-width="1.85" fill="none" stroke-dasharray="9.6 4.5"/>
<text x="538.4" y="50" font-size="17.8" fill="#ff0000">Jäger 1000</text>
<path d="M455.8 64.9 H532.4" stroke="#ff00ff" stroke-width="1.85" fill="none" stroke-dasharray="5.62 3.83"/>
<text x="538.4" y="69.9" font-size="17.8" fill="#ff00ff">Jäger 400</text>
<path d="M455.8 83.2 H532.4" stroke="#00ff00" stroke-width="1.85" fill="none" stroke-dasharray="5.5 1.9 1.3 1.9"/>
<text x="538.4" y="89.6" font-size="17.8" fill="#00ff00">Preibisch</text>
<path d="M455.8 103.1 H532.4" stroke="#0000ff" stroke-width="1.85" fill="none" stroke-dasharray="7.2 2.25 1.3 2.25 1.3 2.25 1.3 2.25"/>
<text x="538.4" y="107.8" font-size="17.8" fill="#0000ff">Rouleau</text>
<path d="M455.8 122.9 H532.4" stroke="#00ffff" stroke-width="1.85" fill="none"/>
<text x="538.4" y="128.3" font-size="17.8" fill="#00ffff">Zubko</text>
<path d="M455.8 138.8 H532.4" stroke="#000000" stroke-width="1.5" fill="none" stroke-dasharray="1.3 2.0"/>
<text x="538.4" y="143.6" font-size="17.8" fill="#000000">Maron</text>
<text class="se" x="94" y="456.6" font-size="18" text-anchor="middle" fill="#000">0.1</text>
<text class="se" x="240.07" y="456.6" font-size="18" text-anchor="middle" fill="#000">1.0</text>
<text class="se" x="386.15" y="456.6" font-size="18" text-anchor="middle" fill="#000">10.0</text>
<text class="se" x="532.22" y="456.6" font-size="18" text-anchor="middle" fill="#000">100.0</text>
<text class="se" x="678.3" y="456.6" font-size="18" text-anchor="middle" fill="#000">1000.0</text>
<text class="se" x="419.2" y="475.9" font-size="18" text-anchor="end" fill="#000">Wavelength (</text>
<text class="se" transform="translate(418.2 475.9) scale(1.3 1)" x="0" y="0" font-size="18" fill="#000">μ</text>
<text x="428.75" y="475.9" font-size="18.7" fill="#000">m<tspan dx="0.4" font-size="17.4">)</tspan></text>
<text x="82.4" y="434.7" font-size="17.8" text-anchor="end" fill="#000">10</text>
<text x="83.3" y="427.1" font-size="11" fill="#000">0</text>
<text x="82.4" y="372.7" font-size="17.8" text-anchor="end" fill="#000">10</text>
<text x="83.3" y="365.1" font-size="11" fill="#000">1</text>
<text x="82.4" y="305.3" font-size="17.8" text-anchor="end" fill="#000">10</text>
<text x="83.3" y="297.7" font-size="11" fill="#000">2</text>
<text x="82.4" y="237.9" font-size="17.8" text-anchor="end" fill="#000">10</text>
<text x="83.3" y="230.3" font-size="11" fill="#000">3</text>
<text x="82.4" y="170.5" font-size="17.8" text-anchor="end" fill="#000">10</text>
<text x="83.3" y="162.9" font-size="11" fill="#000">4</text>
<text x="82.4" y="103.1" font-size="17.8" text-anchor="end" fill="#000">10</text>
<text x="83.3" y="95.5" font-size="11" fill="#000">5</text>
<text x="82.4" y="40" font-size="17.8" text-anchor="end" fill="#000">10</text>
<text x="83.3" y="32.4" font-size="11" fill="#000">6</text>
<g transform="translate(49.2 289.6) rotate(-90)"><text x="0" y="0" font-size="18" fill="#000">Q(ext)/a (cm<tspan font-size="8.6" dy="-8.3" dx="2.1">-1</tspan><tspan font-size="18" dy="8.3" dx="-1.1">)</tspan></text></g>
</svg></body></html>
